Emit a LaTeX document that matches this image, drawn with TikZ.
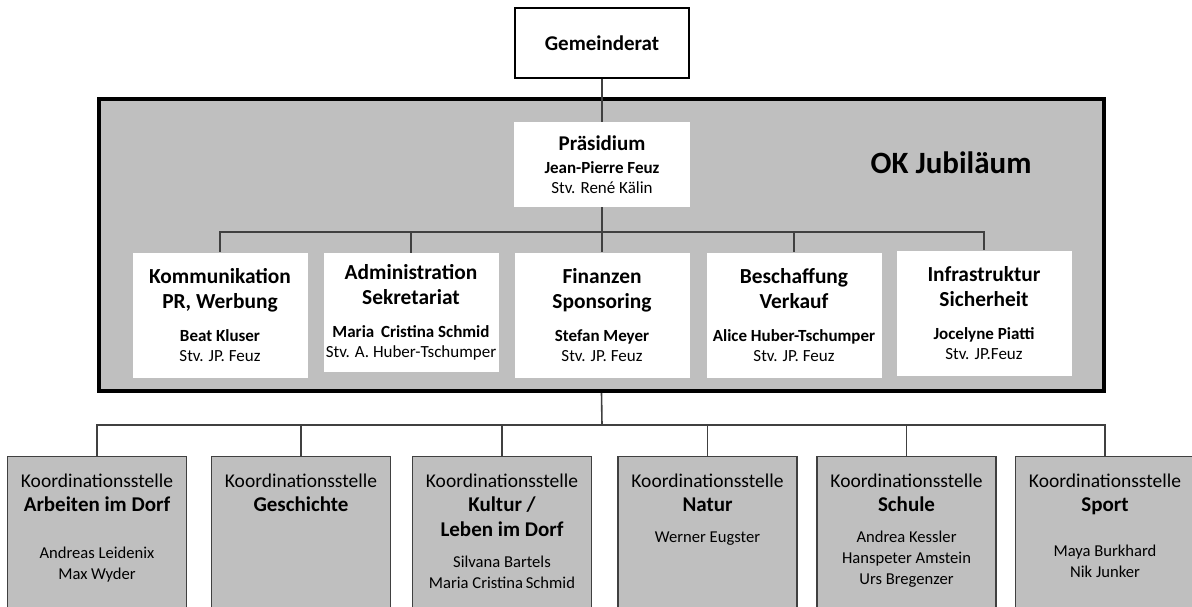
\documentclass[tikz,border=0pt]{standalone}
\usepackage{fontspec}
\setmainfont{Carlito}
\usetikzlibrary{positioning}

\tikzset{
  conn/.style={draw=black!75, line width=0.8pt},
  okbox/.style={fill=white, minimum width=87.5pt, minimum height=62.5pt, inner sep=0pt,
    align=center, font=\fontsize{8.5}{10}\selectfont},
  kbox/.style={fill=black!25, draw=black!75, line width=0.7pt, minimum width=89.5pt,
    minimum height=85pt, anchor=north},
  ktext/.style={inner sep=0pt, align=center, font=\fontsize{8.3}{10.5}\selectfont}
}
\newcommand{\oktitel}[1]{{\fontsize{10.7}{12}\selectfont\bfseries #1}}
\newcommand{\ktitel}[1]{{\fontsize{10.5}{12}\selectfont\bfseries #1}}
\newcommand{\koord}{{\fontsize{9.75}{10.5}\selectfont Koordinationsstelle}\\[1.5pt]}

\begin{document}
\begin{tikzpicture}[x=0.5pt, y=-0.5pt]
\path[use as bounding box, clip] (0,0) rectangle (1192,606);

% Gemeinderat und OK
\node[draw=black, line width=0.6pt, fill=white, minimum width=87pt, minimum height=35pt,
  font=\fontsize{10.5}{12}\selectfont\bfseries] (gr) at (602,43) {Gemeinderat};
\node[draw=black, line width=2pt, fill=black!25, minimum width=502.5pt, minimum height=146pt,
  inner sep=0pt] (okr) at (601.5,245) {};
\node[anchor=base, font=\fontsize{15.5}{18}\selectfont\bfseries] (okt) at (951,173) {OK Jubiläum};

\node[okbox, minimum width=88pt, minimum height=42.5pt] (pr) at (602,164.5)
  {{\fontsize{10.5}{12}\selectfont\bfseries Präsidium}\\[1.5pt] \textbf{Jean-Pierre Feuz}\\ Stv. René Kälin};

\node[okbox] (kom) at (220,315) {\oktitel{Kommunikation}\\[2.5pt] \oktitel{PR, Werbung}\\[6.5pt]
  \textbf{Beat Kluser}\\ Stv. JP. Feuz};
\node[okbox, minimum height=59.5pt] (adm) at (411,312.5) {\oktitel{Administration}\\[2.5pt] \oktitel{Sekretariat}\\[6.5pt]
  \textbf{Maria\, Cristina Schmid}\\ Stv. A. Huber-Tschumper};
\node[okbox] (fin) at (602,315) {\oktitel{Finanzen}\\[2.5pt] \oktitel{Sponsoring}\\[6.5pt]
  \textbf{Stefan Meyer}\\ Stv. JP. Feuz};
\node[okbox] (bes) at (794,315) {\oktitel{Beschaffung}\\[2.5pt] \oktitel{Verkauf}\\[6.5pt]
  \textbf{Alice Huber-Tschumper}\\ Stv. JP. Feuz};
\node[okbox] (inf) at (984,313) {\oktitel{Infrastruktur}\\[2.5pt] \oktitel{Sicherheit}\\[6.5pt]
  \textbf{Jocelyne Piatti}\\ Stv. JP.Feuz};

% Koordinationsstellen
\node[kbox] (k1) at (97,456) {};
\node[kbox] (k2) at (301,456) {};
\node[kbox] (k3) at (502,456) {};
\node[kbox] (k4) at (707.5,456) {};
\node[kbox] (k5) at (906.5,456) {};
\node[kbox] (k6) at (1105,456) {};

\node[ktext, below=9pt of k1.north] (t1) {\koord \ktitel{Arbeiten im Dorf}\\[13pt]
  Andreas Leidenix\\ Max Wyder};
\node[ktext, below=9pt of k2.north] (t2) {\koord \ktitel{Geschichte}};
\node[ktext, below=9pt of k3.north] (t3) {\koord \ktitel{Kultur /}\\[2pt] \ktitel{Leben im Dorf}\\[5pt]
  Silvana Bartels\\ Maria Cristina\,Schmid};
\node[ktext, below=9pt of k4.north] (t4) {\koord \ktitel{Natur}\\[5pt] Werner Eugster};
\node[ktext, below=9pt of k5.north] (t5) {\koord \ktitel{Schule}\\[5pt]
  Andrea Kessler\\ Hanspeter Amstein\\ Urs Bregenzer};
\node[ktext, below=9pt of k6.north] (t6) {\koord \ktitel{Sport}\\[12pt]
  Maya Burkhard\\ Nik Junker};

% Linien
\coordinate (okbus) at (602,232);
\coordinate (kbus) at (602,425);
\draw[conn] (gr) -- (pr);
\draw[conn] (pr) -- (fin);
\foreach \n in {kom,adm,bes,inf}
  \draw[conn] (okbus) -| (\n.north);
\draw[conn] (okr.south) -- (kbus);
\foreach \n in {k1,k2,k3,k4,k5,k6}
  \draw[conn] (kbus) -| (\n.north);
\end{tikzpicture}
\end{document}
